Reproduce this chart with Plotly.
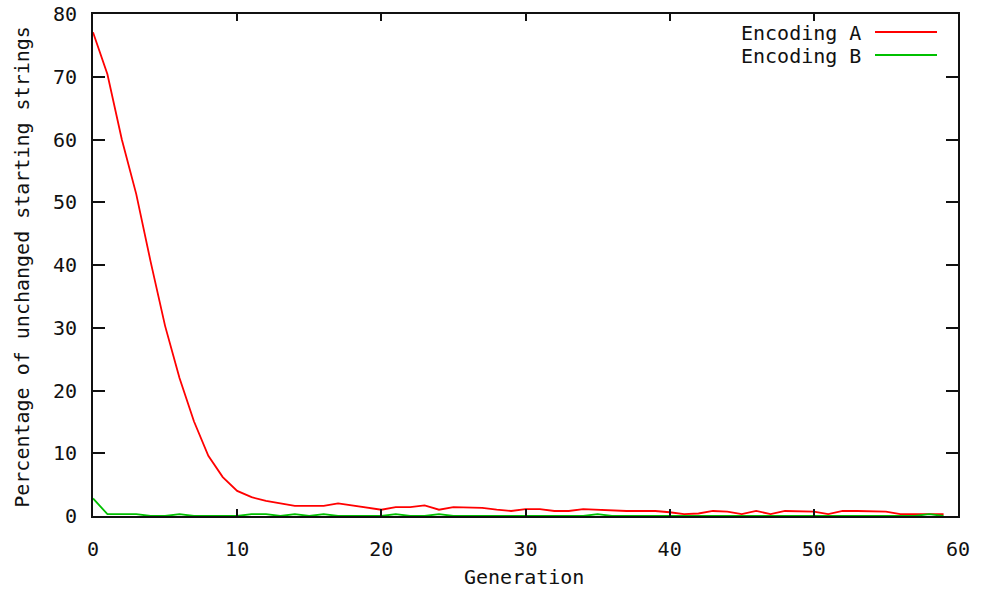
import plotly.graph_objects as go

generation = list(range(60))

encoding_a = [77.1, 70.4, 60.0, 51.3, 40.5, 30.3, 22.0, 15.1, 9.6, 6.2,
              4.0, 3.0, 2.4, 2.0, 1.6, 1.6, 1.6, 2.0, 1.7, 1.3,
              1.0, 1.4, 1.4, 1.7, 1.0, 1.4, 1.4, 1.3, 1.0, 0.8,
              1.1, 1.1, 0.8, 0.8, 1.1, 1.0, 0.8, 0.8, 0.8, 0.8,
              0.6, 0.3, 0.4, 0.8, 0.7, 0.3, 0.8, 0.3, 0.8, 0.8,
              0.7, 0.3, 0.8, 0.8, 0.8, 0.7, 0.3, 0.3, 0.3, 0.3]

encoding_b = [2.8, 0.3, 0.3, 0.3, 0.0, 0.0, 0.3, 0.0, 0.0, 0.0,
              0.0, 0.3, 0.3, 0.0, 0.3, 0.0, 0.3, 0.0, 0.0, 0.0,
              0.0, 0.3, 0.0, 0.0, 0.3, 0.0, 0.0, 0.0, 0.0, 0.0,
              0.0, 0.0, 0.0, 0.0, 0.0, 0.3, 0.0, 0.0, 0.0, 0.0,
              0.0, 0.0, 0.0, 0.0, 0.0, 0.0, 0.0, 0.0, 0.0, 0.0,
              0.0, 0.0, 0.0, 0.0, 0.0, 0.0, 0.0, 0.0, 0.3, 0.0]

x_ticks = [0, 10, 20, 30, 40, 50, 60]
y_ticks = [0, 10, 20, 30, 40, 50, 60, 70, 80]
series_names = ["Encoding A", "Encoding B"]
series_colors = ["#ff0000", "#00c000"]
x_title = "Generation"
y_title = "Percentage of unchanged starting strings"

FONT = "DejaVu Sans Mono"
FS = 20
INK = "#111111"
W, H = 981, 592
L, R, T, B = 93, 958, 14, 516.5

fig = go.Figure()
for name, vals, col in zip(series_names, [encoding_a, encoding_b], series_colors):
    fig.add_trace(go.Scatter(x=generation, y=vals, mode="lines", name=name,
                             line=dict(color=col, width=1.8), showlegend=False))

axis_common = dict(showline=True, linecolor=INK, linewidth=2, mirror="ticks",
                   ticks="inside", tickcolor=INK, tickwidth=2,
                   showgrid=False, zeroline=False, automargin=False,
                   tickfont=dict(family=FONT, size=FS, color=INK))

fig.update_xaxes(range=[0, 60], tickvals=x_ticks, ticklen=7, ticklabelstandoff=14,
                 **axis_common)
fig.update_yaxes(range=[0, 80], tickvals=y_ticks, ticklen=12, ticklabelstandoff=10,
                 **axis_common)

def px_to_paper_x(p):
    return (p - L) / (R - L)

def px_to_paper_y(p):
    return (B - p) / (B - T)

# axis titles
fig.add_annotation(x=px_to_paper_x(524), y=px_to_paper_y(578), xref="paper", yref="paper",
                   text=x_title, showarrow=False, xanchor="center", yanchor="middle",
                   font=dict(family=FONT, size=FS, color=INK))
fig.add_annotation(x=px_to_paper_x(22), y=px_to_paper_y(267), xref="paper", yref="paper",
                   text=y_title, showarrow=False, xanchor="center", yanchor="middle",
                   textangle=-90, font=dict(family=FONT, size=FS, color=INK))

# key (text on the left, line sample on the right)
legend_rows = [33, 56]
for name, col, yp in zip(series_names, series_colors, legend_rows):
    fig.add_annotation(x=px_to_paper_x(863), y=px_to_paper_y(yp), xref="paper", yref="paper",
                       text=name, showarrow=False, xanchor="right", yanchor="middle",
                       font=dict(family=FONT, size=FS, color=INK))
    fig.add_shape(type="line", xref="paper", yref="paper",
                  x0=px_to_paper_x(875), x1=px_to_paper_x(937),
                  y0=px_to_paper_y(yp - 1), y1=px_to_paper_y(yp - 1),
                  line=dict(color=col, width=2))

fig.update_layout(width=W, height=H, paper_bgcolor="white", plot_bgcolor="white",
                  margin=dict(l=L, r=W - R, t=T, b=H - B, pad=0),
                  showlegend=False, hovermode=False)

fig.write_html("out.html", config={"displayModeBar": False, "staticPlot": True},
               post_script="document.body.style.margin='0px';document.body.style.overflow='hidden';")
